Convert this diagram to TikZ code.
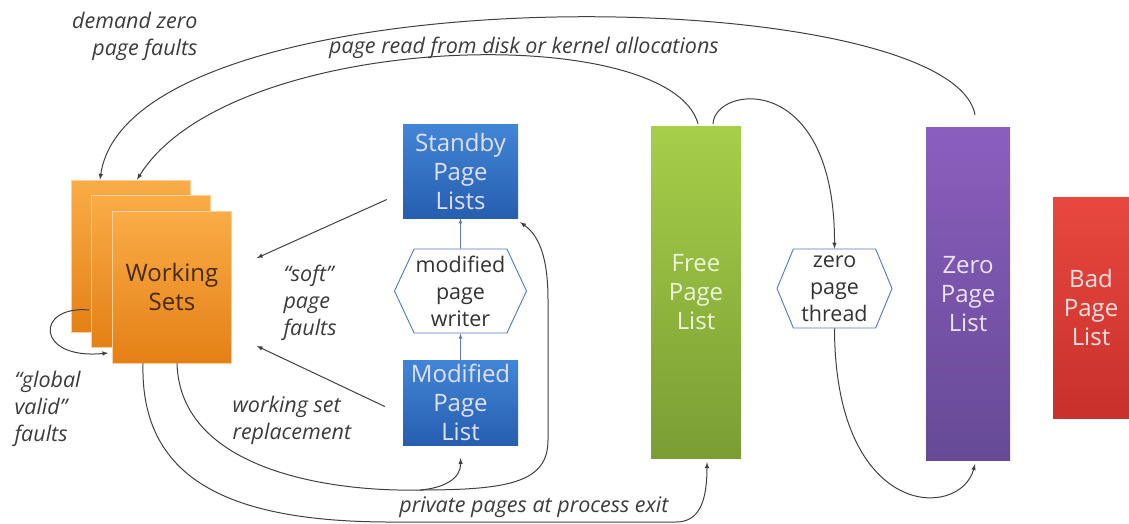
\documentclass[tikz,border=0pt]{standalone}
\usepackage{fontspec}
\setmainfont{Open Sans}
\usetikzlibrary{shapes.symbols}
\definecolor{wsTop}{RGB}{250,172,70}
\definecolor{wsBot}{RGB}{228,128,22}
\definecolor{wsText}{RGB}{70,42,8}
\definecolor{sbTop}{RGB}{66,133,214}
\definecolor{sbBot}{RGB}{38,94,176}
\definecolor{frTop}{RGB}{166,206,72}
\definecolor{frBot}{RGB}{122,158,52}
\definecolor{zrTop}{RGB}{138,94,190}
\definecolor{zrBot}{RGB}{102,74,150}
\definecolor{bdTop}{RGB}{232,72,62}
\definecolor{bdBot}{RGB}{200,48,44}
\definecolor{hexline}{RGB}{80,120,195}
\definecolor{lblgray}{RGB}{60,60,60}

\begin{document}
\begin{tikzpicture}[>=latex, x=1pt, y=-1pt,
  pagelist/.style={rectangle, inner sep=0pt, align=center, font=\fontsize{24}{29}\selectfont},
  wsbox/.style={pagelist, minimum width=119pt, minimum height=152pt, top color=wsTop, bottom color=wsBot, draw=wsTop!55!white, line width=.6pt},
  hexa/.style={signal, signal to=east and west, signal pointer angle=130, draw=hexline, line width=.9pt, fill=white, inner sep=0pt, align=center, text=black!80, font=\fontsize{21.5}{27}\selectfont},
  lbl/.style={font=\fontsize{21.5}{27}\selectfont\itshape, text=lblgray, align=left},
  flow/.style={->, line width=1pt, draw=black!75},
  push/.style={->, line width=.8pt, draw=hexline!70!gray}]
\useasboundingbox (0,0) rectangle (1129,524);
% working sets, back to front
\node[wsbox] (ws1) at (131,256) {};
\node[wsbox] (ws2) at (151,271) {};
\node[wsbox, text=wsText] (ws3) at (172,287) {Working\\Sets};
% page lists
\node[pagelist, minimum width=115pt, minimum height=93pt, top color=sbTop, bottom color=sbBot, text=white!88!blue] (sbl) at (460.5,171.5) {Standby\\Page\\Lists};
\node[hexa, minimum width=132pt, minimum height=84pt] (mpw) at (460.5,291) {modified\\page\\writer};
\node[pagelist, minimum width=115pt, minimum height=85pt, top color=sbTop, bottom color=sbBot, text=white!88!blue] (mpl) at (460.5,402.5) {Modified\\Page\\List};
\node[pagelist, minimum width=90pt, minimum height=331pt, top color=frTop, bottom color=frBot, text=white!80!frTop] (fpl) at (696,292.5) {Free\\Page\\List};
\node[hexa, minimum width=115pt, minimum height=79pt, signal pointer angle=135] (zpt) at (834.5,288.5) {zero\\page\\thread};
\node[pagelist, minimum width=84pt, minimum height=332pt, top color=zrTop, bottom color=zrBot, text=white!82!zrTop] (zpl) at (968,294) {Zero\\Page\\List};
\node[pagelist, minimum width=76pt, minimum height=221pt, top color=bdTop, bottom color=bdBot, text=white!85!bdTop] (bpl) at (1091,307.5) {Bad\\Page\\List};
\draw[push] (mpl) -- (mpw);
\draw[push] (mpw) -- (sbl);
% top arcs
\draw[flow] ([shift={(7,-13)}]zpl.north) .. controls (950,-20) and (130,-30) .. ([xshift=-31pt]ws1.north);
\draw[flow] ([shift={(2,-3)}]fpl.north) .. controls (670,20) and (230,30) .. ([xshift=6pt]ws1.north);
\node[lbl, align=right, anchor=east] (ldemand) at (201,36) {demand zero\\page faults};
\node[lbl] (lread) at (524,48) {page read from disk or kernel allocations};
% zeroing loop
\draw[flow] ([shift={(17,-3)}]fpl.north) .. controls (715,85) and (835,70) .. (zpt.north);
\draw[flow] (zpt.south) .. controls (835,520) and (960,520) .. ([shift={(7,4)}]zpl.south);
% soft faults
\draw[flow] ([shift={(-16,28)}]sbl.west) -- ([shift={(25,-29)}]ws3.east);
\draw[flow] ([shift={(-18,4)}]mpl.west) -- ([shift={(25,59)}]ws3.east);
\node[lbl, anchor=west] (lsoft) at (280,303) {``soft''\\page\\faults};
% working set replacement
\coordinate (wsr) at (420,490);
\draw[flow, -] ([xshift=5pt]ws3.south) .. controls (180,470) and (330,492) .. (wsr);
\draw[flow] (wsr) .. controls (445,488) and (461,478) .. ([shift={(0,13)}]mpl.south);
\draw[flow] (wsr) .. controls (510,490) and (548,482) .. (548,440) -- (548,300) .. controls (548,255) and (538,235) .. ([shift={(2,4)}]sbl.south east);
\node[lbl, anchor=west] (lrepl) at (229,420) {working set\\replacement};
% process exit
\draw[flow] ([xshift=-29pt]ws3.south) .. controls (140,480) and (230,521) .. (386,522) -- (676,522) .. controls (700,522) and (707,500) .. ([shift={(11,4)}]fpl.south);
\node[lbl] (lexit) at (534,507) {private pages at process exit};
% global valid faults
\draw[flow] ([shift={(-2,39)}]ws2.west) .. controls (35,305) and (35,360) .. ([shift={(-4,66)}]ws3.west);
\node[lbl, anchor=west] (lglobal) at (11,409) {``global\\valid''\\faults};
\end{tikzpicture}
\end{document}
